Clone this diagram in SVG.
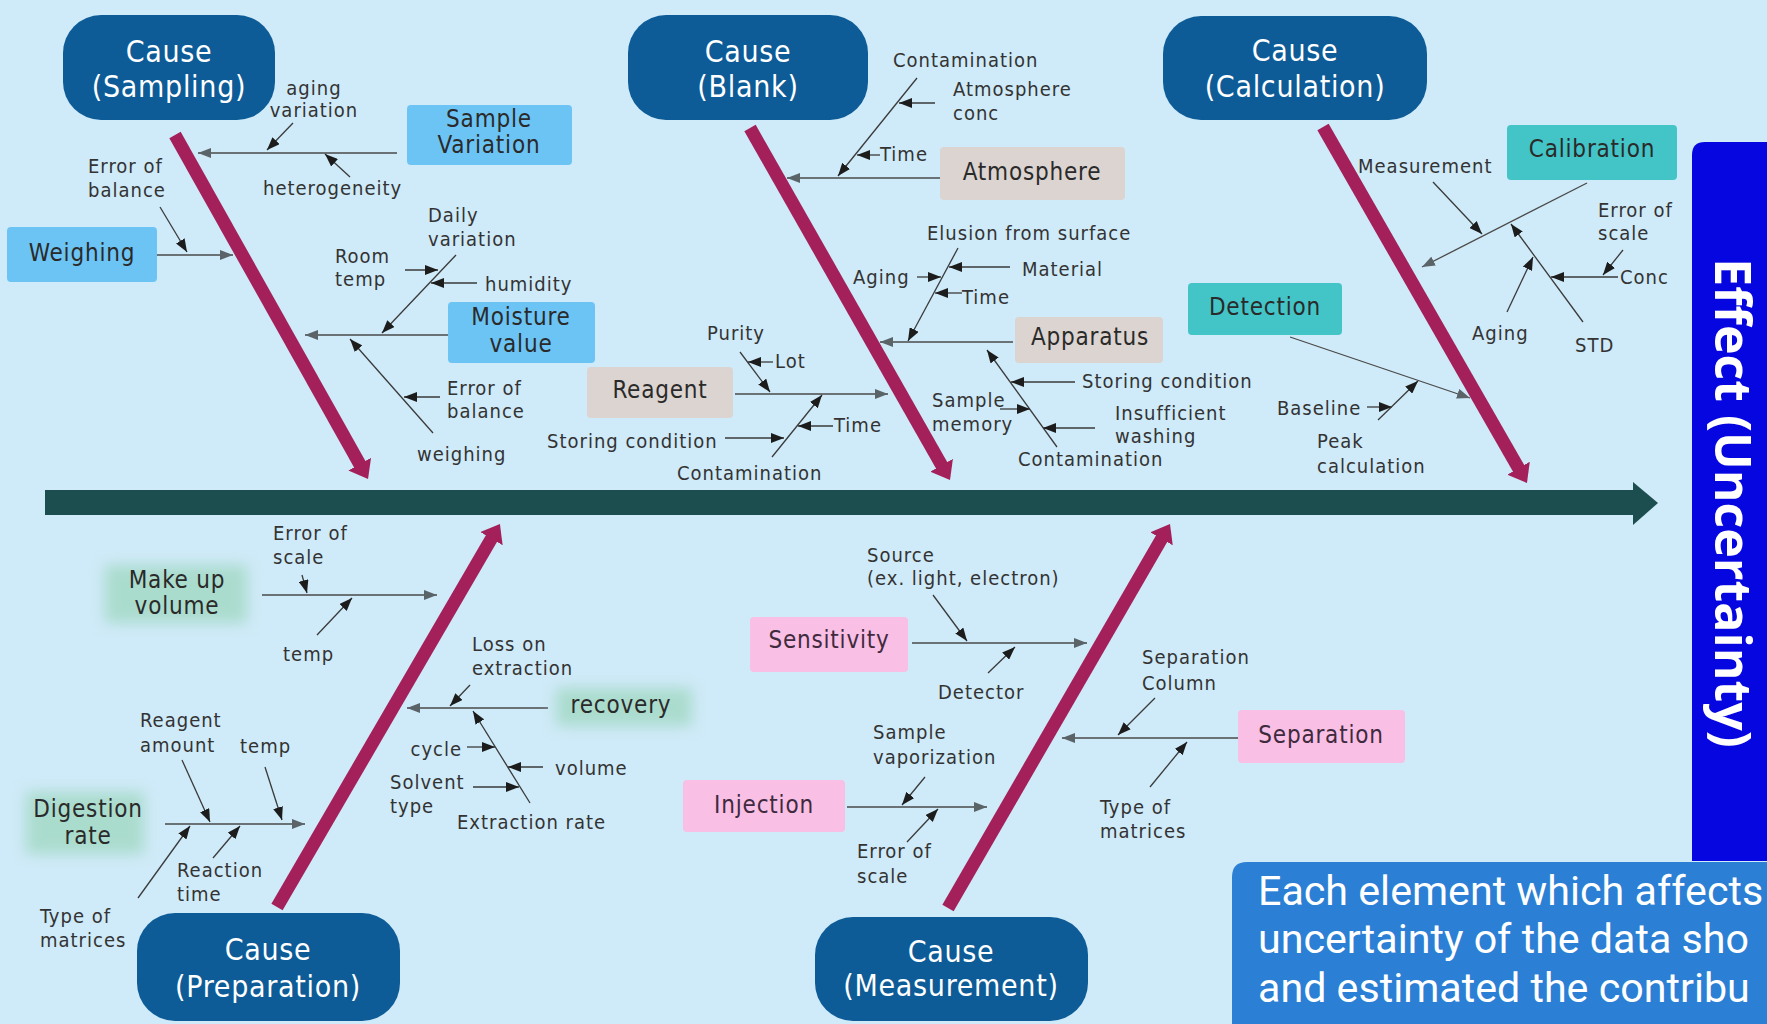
<svg xmlns="http://www.w3.org/2000/svg" width="1767" height="1024" viewBox="0 0 1767 1024">
<defs>
<style>
.lbl{font-family:"DejaVu Sans Condensed","Open Sans","Noto Sans",sans-serif;font-size:20px;letter-spacing:1px;fill:#333;}
.bt{font-family:"DejaVu Sans Condensed","Open Sans","Noto Sans",sans-serif;font-size:24px;letter-spacing:0.8px;fill:#2a2a2a;text-anchor:middle;}
.pk{fill:#3f2a3e;}
.ct{font-family:"DejaVu Sans Condensed","Open Sans","Noto Sans",sans-serif;font-size:30px;letter-spacing:0.7px;fill:#ffffff;text-anchor:middle;}
.cause{fill:#0d5c97;}
.blue{fill:#6cc4f4;}
.beige{fill:#dcd4d0;}
.teal{fill:#43c4c6;}
.pink{fill:#f9bfe4;}
.glow{fill:#aadccd;filter:url(#blur);}
.c{stroke:#3a3a3a;stroke-width:1.3;fill:none;marker-end:url(#ak);}
.cg{stroke:#4a4a4a;stroke-width:1.3;fill:none;marker-end:url(#ag);}
.bone{stroke:#a3205a;stroke-width:13;fill:none;marker-end:url(#ab);}
</style>
<marker id="ak" viewBox="0 0 13 10" refX="13" refY="5" markerWidth="13" markerHeight="10" markerUnits="userSpaceOnUse" orient="auto"><path d="M0,0 L13,5 L0,10 z" fill="#1c1c1c"/></marker>
<marker id="ag" viewBox="0 0 13 10" refX="13" refY="5" markerWidth="13" markerHeight="10" markerUnits="userSpaceOnUse" orient="auto"><path d="M0,0 L13,5 L0,10 z" fill="#5a6468"/></marker>
<marker id="ab" viewBox="0 0 17 26" refX="1" refY="13" markerWidth="17" markerHeight="26" markerUnits="userSpaceOnUse" orient="auto"><path d="M0,0 L17,13 L0,26 z" fill="#a3205a"/></marker>
<filter id="blur" x="-30%" y="-50%" width="160%" height="200%"><feGaussianBlur stdDeviation="7"/></filter>
</defs>
<rect x="0" y="0" width="1767" height="1024" fill="#cfeaf8"/>

<g id="spine">
<rect x="45" y="490" width="1590" height="25" fill="#1d4e4f"/>
<polygon points="1633,482 1658,503 1633,525" fill="#1d4e4f"/>
</g>

<g id="connectors">
<line class="bone" x1="175" y1="135" x2="360.2" y2="465"/>
<line class="bone" x1="750" y1="128" x2="942.1" y2="466.1"/>
<line class="bone" x1="1323" y1="127" x2="1519" y2="469.1"/>
<line class="bone" x1="277" y1="907" x2="491.9" y2="537.8"/>
<line class="bone" x1="948" y1="908" x2="1162" y2="537.9"/>
<line class="cg" x1="397" y1="153" x2="198" y2="153"/>
<line class="c" x1="293" y1="123" x2="267" y2="150"/>
<line class="c" x1="350" y1="177" x2="325" y2="154"/>
<line class="cg" x1="157" y1="255" x2="233" y2="255"/>
<line class="c" x1="160" y1="207" x2="187" y2="252"/>
<line class="cg" x1="448" y1="335" x2="305" y2="335"/>
<line class="c" x1="456" y1="255" x2="382" y2="333"/>
<line class="c" x1="405" y1="270" x2="438" y2="270"/>
<line class="c" x1="477" y1="283" x2="431" y2="283"/>
<line class="c" x1="433" y1="433" x2="350" y2="339"/>
<line class="c" x1="440" y1="397" x2="404" y2="397"/>
<line class="cg" x1="940" y1="178" x2="787" y2="178"/>
<line class="c" x1="917" y1="78" x2="838" y2="176"/>
<line class="c" x1="935" y1="103" x2="899" y2="103"/>
<line class="c" x1="880" y1="155" x2="857" y2="155"/>
<line class="cg" x1="1013" y1="342" x2="880" y2="342"/>
<line class="c" x1="958" y1="248" x2="908" y2="341"/>
<line class="c" x1="1010" y1="267" x2="949" y2="267"/>
<line class="c" x1="917" y1="277" x2="941" y2="277"/>
<line class="c" x1="962" y1="293" x2="935" y2="293"/>
<line class="c" x1="1057" y1="447" x2="987" y2="350"/>
<line class="c" x1="1075" y1="382" x2="1011" y2="382"/>
<line class="c" x1="1000" y1="409" x2="1030" y2="409"/>
<line class="c" x1="1095" y1="428" x2="1043" y2="428"/>
<line class="cg" x1="735" y1="394" x2="888" y2="394"/>
<line class="c" x1="740" y1="352" x2="770" y2="392"/>
<line class="c" x1="773" y1="362" x2="748" y2="362"/>
<line class="c" x1="772" y1="457" x2="822" y2="395"/>
<line class="c" x1="833" y1="426" x2="798" y2="426"/>
<line class="c" x1="725" y1="438" x2="784" y2="438"/>
<line class="cg" x1="1587" y1="183" x2="1422" y2="267"/>
<line class="c" x1="1433" y1="182" x2="1482" y2="234"/>
<line class="c" x1="1583" y1="322" x2="1511" y2="224"/>
<line class="c" x1="1507" y1="312" x2="1533" y2="257"/>
<line class="c" x1="1618" y1="277" x2="1551" y2="277"/>
<line class="c" x1="1623" y1="250" x2="1603" y2="275"/>
<line class="cg" x1="1290" y1="337" x2="1470" y2="398"/>
<line class="c" x1="1367" y1="407" x2="1392" y2="407"/>
<line class="c" x1="1378" y1="420" x2="1418" y2="381"/>
<line class="cg" x1="262" y1="595" x2="437" y2="595"/>
<line class="c" x1="302" y1="575" x2="307" y2="593"/>
<line class="c" x1="317" y1="635" x2="352" y2="598"/>
<line class="cg" x1="548" y1="708" x2="407" y2="708"/>
<line class="c" x1="470" y1="685" x2="450" y2="706"/>
<line class="c" x1="530" y1="803" x2="473" y2="711"/>
<line class="c" x1="467" y1="747" x2="495" y2="747"/>
<line class="c" x1="543" y1="767" x2="508" y2="767"/>
<line class="c" x1="473" y1="787" x2="519" y2="787"/>
<line class="cg" x1="165" y1="824" x2="305" y2="824"/>
<line class="c" x1="182" y1="760" x2="210" y2="822"/>
<line class="c" x1="265" y1="767" x2="282" y2="820"/>
<line class="c" x1="213" y1="858" x2="240" y2="826"/>
<line class="c" x1="138" y1="898" x2="190" y2="826"/>
<line class="cg" x1="912" y1="643" x2="1087" y2="643"/>
<line class="c" x1="933" y1="595" x2="967" y2="641"/>
<line class="c" x1="988" y1="673" x2="1015" y2="647"/>
<line class="cg" x1="1238" y1="738" x2="1062" y2="738"/>
<line class="c" x1="1155" y1="698" x2="1118" y2="735"/>
<line class="c" x1="1150" y1="787" x2="1187" y2="742"/>
<line class="cg" x1="847" y1="807" x2="987" y2="807"/>
<line class="c" x1="925" y1="777" x2="902" y2="805"/>
<line class="c" x1="907" y1="842" x2="938" y2="809"/>
</g>

<g id="cause-sampling"><rect class="cause" x="63" y="15" width="212" height="105" rx="38"/><text class="ct"><tspan x="169" y="62">Cause</tspan><tspan x="169" y="97">(Sampling)</tspan></text></g>
<g id="cause-blank"><rect class="cause" x="628" y="15" width="240" height="105" rx="38"/><text class="ct"><tspan x="748" y="62">Cause</tspan><tspan x="748" y="97">(Blank)</tspan></text></g>
<g id="cause-calculation"><rect class="cause" x="1163" y="16" width="264" height="104" rx="38"/><text class="ct"><tspan x="1295" y="61">Cause</tspan><tspan x="1295" y="97">(Calculation)</tspan></text></g>
<g id="cause-preparation"><rect class="cause" x="137" y="913" width="263" height="108" rx="38"/><text class="ct"><tspan x="268" y="960">Cause</tspan><tspan x="268" y="997">(Preparation)</tspan></text></g>
<g id="cause-measurement"><rect class="cause" x="815" y="917" width="273" height="104" rx="38"/><text class="ct"><tspan x="951" y="962">Cause</tspan><tspan x="951" y="996">(Measurement)</tspan></text></g>

<g id="sample-variation"><rect class="blue" x="407" y="105" width="165" height="60" rx="4"/><text class="bt"><tspan x="489" y="127">Sample</tspan><tspan x="489" y="153">Variation</tspan></text></g>
<g id="weighing"><rect class="blue" x="7" y="227" width="150" height="55" rx="4"/><text class="bt" x="82" y="261">Weighing</text></g>
<g id="moisture-value"><rect class="blue" x="448" y="302" width="147" height="61" rx="4"/><text class="bt"><tspan x="521" y="325">Moisture</tspan><tspan x="521" y="352">value</tspan></text></g>
<g id="sampling-labels">
<text class="lbl" text-anchor="middle"><tspan x="314" y="95">aging</tspan><tspan x="314" y="117">variation</tspan></text>
<text class="lbl" x="263" y="195">heterogeneity</text>
<text class="lbl"><tspan x="88" y="173">Error of</tspan><tspan x="88" y="197">balance</tspan></text>
<text class="lbl"><tspan x="335" y="263">Room</tspan><tspan x="335" y="286">temp</tspan></text>
<text class="lbl"><tspan x="428" y="222">Daily</tspan><tspan x="428" y="246">variation</tspan></text>
<text class="lbl" x="485" y="291">humidity</text>
<text class="lbl"><tspan x="447" y="395">Error of</tspan><tspan x="447" y="418">balance</tspan></text>
<text class="lbl" x="417" y="461">weighing</text>
</g>

<g id="atmosphere"><rect class="beige" x="940" y="147" width="185" height="53" rx="4"/><text class="bt" x="1032" y="180">Atmosphere</text></g>
<g id="apparatus"><rect class="beige" x="1015" y="317" width="148" height="46" rx="4"/><text class="bt" x="1090" y="345">Apparatus</text></g>
<g id="reagent"><rect class="beige" x="587" y="367" width="146" height="51" rx="4"/><text class="bt" x="660" y="398">Reagent</text></g>
<g id="blank-labels">
<text class="lbl" x="893" y="67">Contamination</text>
<text class="lbl"><tspan x="953" y="96">Atmosphere</tspan><tspan x="953" y="120">conc</tspan></text>
<text class="lbl" x="880" y="161">Time</text>
<text class="lbl" x="927" y="240">Elusion from surface</text>
<text class="lbl" x="1022" y="276">Material</text>
<text class="lbl" x="853" y="284">Aging</text>
<text class="lbl" x="962" y="304">Time</text>
<text class="lbl" x="1082" y="388">Storing condition</text>
<text class="lbl"><tspan x="932" y="407">Sample</tspan><tspan x="932" y="431">memory</tspan></text>
<text class="lbl"><tspan x="1115" y="420">Insufficient</tspan><tspan x="1115" y="443">washing</tspan></text>
<text class="lbl" x="1018" y="466">Contamination</text>
<text class="lbl" x="707" y="340">Purity</text>
<text class="lbl" x="775" y="368">Lot</text>
<text class="lbl" x="834" y="432">Time</text>
<text class="lbl" x="547" y="448">Storing condition</text>
<text class="lbl" x="677" y="480">Contamination</text>
</g>

<g id="calibration"><rect class="teal" x="1507" y="125" width="170" height="55" rx="4"/><text class="bt" x="1592" y="157">Calibration</text></g>
<g id="detection"><rect class="teal" x="1188" y="283" width="154" height="52" rx="4"/><text class="bt" x="1265" y="315">Detection</text></g>
<g id="calculation-labels">
<text class="lbl" x="1358" y="173">Measurement</text>
<text class="lbl"><tspan x="1598" y="217">Error of</tspan><tspan x="1598" y="240">scale</tspan></text>
<text class="lbl" x="1620" y="284">Conc</text>
<text class="lbl" x="1472" y="340">Aging</text>
<text class="lbl" x="1575" y="352">STD</text>
<text class="lbl" x="1277" y="415">Baseline</text>
<text class="lbl"><tspan x="1317" y="448">Peak</tspan><tspan x="1317" y="473">calculation</tspan></text>
</g>

<g id="make-up-volume"><rect class="glow" x="105" y="565" width="142" height="58"/><text class="bt"><tspan x="177" y="588">Make up</tspan><tspan x="177" y="614">volume</tspan></text></g>
<g id="recovery"><rect class="glow" x="556" y="688" width="136" height="38"/><text class="bt" x="621" y="713">recovery</text></g>
<g id="digestion-rate"><rect class="glow" x="26" y="792" width="118" height="62"/><text class="bt"><tspan x="88" y="817">Digestion</tspan><tspan x="88" y="844">rate</tspan></text></g>
<g id="preparation-labels">
<text class="lbl"><tspan x="273" y="540">Error of</tspan><tspan x="273" y="564">scale</tspan></text>
<text class="lbl" x="283" y="661">temp</text>
<text class="lbl"><tspan x="472" y="651">Loss on</tspan><tspan x="472" y="675">extraction</tspan></text>
<text class="lbl" x="462" y="756" text-anchor="end">cycle</text>
<text class="lbl" x="555" y="775">volume</text>
<text class="lbl"><tspan x="390" y="789">Solvent</tspan><tspan x="390" y="813">type</tspan></text>
<text class="lbl" x="457" y="829">Extraction rate</text>
<text class="lbl"><tspan x="140" y="727">Reagent</tspan><tspan x="140" y="752">amount</tspan></text>
<text class="lbl" x="240" y="753">temp</text>
<text class="lbl"><tspan x="177" y="877">Reaction</tspan><tspan x="177" y="901">time</tspan></text>
<text class="lbl"><tspan x="40" y="923">Type of</tspan><tspan x="40" y="947">matrices</tspan></text>
</g>

<g id="sensitivity"><rect class="pink" x="750" y="617" width="158" height="55" rx="4"/><text class="bt pk" x="829" y="648">Sensitivity</text></g>
<g id="separation"><rect class="pink" x="1238" y="710" width="167" height="53" rx="4"/><text class="bt pk" x="1321" y="743">Separation</text></g>
<g id="injection"><rect class="pink" x="683" y="780" width="162" height="52" rx="4"/><text class="bt pk" x="764" y="813">Injection</text></g>
<g id="measurement-labels">
<text class="lbl"><tspan x="867" y="562">Source</tspan><tspan x="867" y="585">(ex. light, electron)</tspan></text>
<text class="lbl" x="938" y="699">Detector</text>
<text class="lbl"><tspan x="1142" y="664">Separation</tspan><tspan x="1142" y="690">Column</tspan></text>
<text class="lbl"><tspan x="873" y="739">Sample</tspan><tspan x="873" y="764">vaporization</tspan></text>
<text class="lbl"><tspan x="1100" y="814">Type of</tspan><tspan x="1100" y="838">matrices</tspan></text>
<text class="lbl"><tspan x="857" y="858">Error of</tspan><tspan x="857" y="883">scale</tspan></text>
</g>

<g id="effect">
<path d="M1692,155 Q1692,142 1705,142 L1767,142 L1767,861 L1692,861 Z" fill="#0606e0"/>
<text transform="translate(1731,503) rotate(90)" x="0" y="16" text-anchor="middle" font-family="'Open Sans','Noto Sans',sans-serif" font-weight="bold" font-size="50" fill="#ffffff">Effect (Uncertainty)</text>
</g>

<g id="note">
<path d="M1232,877 Q1232,862 1247,862 L1767,862 L1767,1024 L1232,1024 Z" fill="#2b7fd4"/>
<text font-family="Roboto,'Liberation Sans',sans-serif" font-size="41.2" fill="#ffffff"><tspan x="1258" y="905">Each element which affects</tspan><tspan x="1258" y="953">uncertainty of the data sho</tspan><tspan x="1258" y="1002">and estimated the contribu</tspan></text>
</g>
</svg>
